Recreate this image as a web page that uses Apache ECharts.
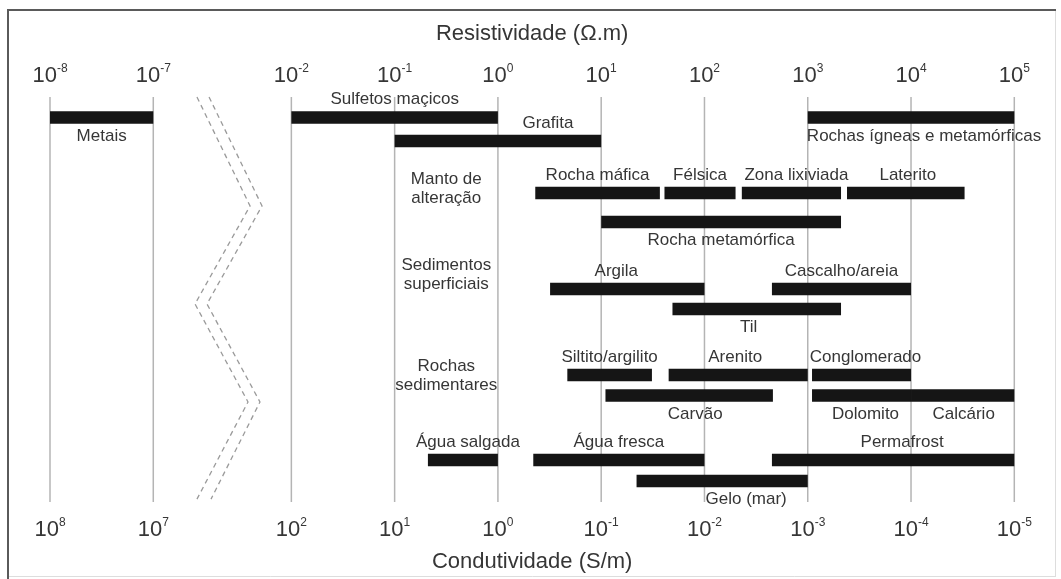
<!DOCTYPE html>
<html>
<head>
<meta charset="utf-8">
<script src="https://cdn.jsdelivr.net/npm/echarts@6/dist/echarts.min.js"></script>
<style>
  html, body { margin: 0; padding: 0; background: #fff; }
  #chart { width: 1061px; height: 579px; }
</style>
</head>
<body>
<div id="chart"></div>
<script>
// Resistivity ranges of earth materials (Ω·m)
const materials = ['Metais', 'Sulfetos maçicos', 'Rochas ígneas e metamórficas', 'Grafita',
  'Rocha máfica', 'Félsica', 'Zona lixiviada', 'Laterito', 'Rocha metamórfica',
  'Argila', 'Cascalho/areia', 'Til',
  'Siltito/argilito', 'Arenito', 'Conglomerado', 'Carvão', 'Dolomito', 'Calcário',
  'Água salgada', 'Água fresca', 'Permafrost', 'Gelo (mar)'];
const rhoMin = [1e-8, 1e-2, 1e3, 1e-1,
  2.3, 41, 230, 2400, 10,
  3.2, 450, 49,
  4.7, 45, 1100, 11, 1100, 1e4,
  0.21, 2.2, 450, 22];
const rhoMax = [1e-7, 1, 1e5, 10,
  37, 200, 2100, 33000, 2100,
  100, 1e4, 2100,
  31, 1000, 1e4, 460, 1e4, 1e5,
  1, 100, 1e5, 1000];
// row each material sits on
const materialRow = [0, 0, 0, 1, 2, 2, 2, 2, 3, 4, 4, 5, 6, 6, 6, 7, 7, 7, 8, 8, 8, 9];

// group headings, placed mid-decade between 10^-1 and 10^0
const groupNames = ['Manto de\nalteração', 'Sedimentos\nsuperficiais', 'Rochas\nsedimentares'];

// decade exponents shown on the resistivity scale (broken between -7 and -2)
const decades = [-8, -7, -2, -1, 0, 1, 2, 3, 4, 5];

// ---- layout (vertical rows in axis units 0..100, label placement) ----
const rowY = [5.06, 10.86, 23.7, 30.86, 47.4, 52.35, 68.64, 73.7, 89.6, 94.8];
const groupY = [22.6, 43.8, 68.8];
const labelSide = ['b', 'a', 'b', 'a', 'a', 'a', 'a', 'a', 'b', 'a', 'a', 'b',
  'a', 'a', 'a', 'b', 'b', 'b', 'a', 'a', 'a', 'b'];
const labelShift = [0, 0, 13, 50, 0, 0, 5, 2, 0, -11, 0, -8, 0, -3, 4, 6, 4, 1, 5, 0, 9, 24];

// broken log axis: decades -8..-7, a gap, then -2..5
const GAP = 1.337;
function toPos(lg) { return lg <= -7 ? lg + 8 : lg + 2 + 1 + GAP; }
const XMAX = toPos(5);
const tickPos = decades.map(toPos);
function expAt(v) {
  let best = 0;
  tickPos.forEach((p, i) => { if (Math.abs(p - v) < Math.abs(tickPos[best] - v)) best = i; });
  return decades[best];
}

const FONT = "'Liberation Sans', Arial, Helvetica, sans-serif";
const TXT = '#363636';

const barData = materials.map((n, i) => [
  toPos(Math.log10(rhoMin[i])), toPos(Math.log10(rhoMax[i])), rowY[materialRow[i]], i
]);
const groupData = groupNames.map((n, i) => [toPos(-0.5), groupY[i], i]);

const richTick = {
  b: { fontSize: 22, fontFamily: FONT, color: TXT, lineHeight: 26 },
  s: { fontSize: 12, fontFamily: FONT, color: TXT, lineHeight: 14, verticalAlign: 'top' }
};

function axis(pos, sign, name, nameGap, margin) {
  return {
    type: 'value', position: pos, min: 0, max: XMAX,
    axisLine: { show: false }, axisTick: { show: false }, splitLine: { show: false },
    axisLabel: {
      customValues: tickPos, showMinLabel: true, showMaxLabel: true, margin: margin,
      formatter: v => '{b|10}{s|' + (sign * expAt(v) === 0 ? '0' : String(sign * expAt(v))) + '}',
      rich: richTick
    },
    name: name, nameLocation: 'middle', nameGap: nameGap,
    nameTextStyle: { fontSize: 22, fontFamily: FONT, color: TXT }
  };
}

const chart = echarts.init(document.getElementById('chart'), null, { renderer: 'canvas' });
chart.setOption({
  backgroundColor: '#fff',
  animation: false,
  grid: { left: 50, right: 46.7, top: 97, bottom: 77 },
  xAxis: [
    axis('top', 1, 'Resistividade (Ω.m)', 52, 8),
    axis('bottom', -1, 'Condutividade (S/m)', 49, 15)
  ],
  yAxis: { type: 'value', min: 0, max: 100, inverse: true, show: false },
  graphic: [
    { type: 'line', shape: { x1: 8, y1: 10, x2: 1056, y2: 10 }, style: { stroke: '#5a5a5a', lineWidth: 2 } },
    { type: 'line', shape: { x1: 8, y1: 9, x2: 8, y2: 579 }, style: { stroke: '#5a5a5a', lineWidth: 2 } },
    { type: 'line', shape: { x1: 1055.5, y1: 11, x2: 1055.5, y2: 577 }, style: { stroke: '#dddddd', lineWidth: 1 } },
    { type: 'line', shape: { x1: 9, y1: 576.5, x2: 1056, y2: 576.5 }, style: { stroke: '#dddddd', lineWidth: 1 } }
  ],
  series: [
    {
      // decade grid lines
      type: 'custom', xAxisIndex: 0, silent: true, z: 1,
      data: tickPos.map(p => [p]),
      encode: { x: 0 },
      renderItem: (params, api) => {
        const a = api.coord([api.value(0), 0]);
        const b = api.coord([api.value(0), 100]);
        return { type: 'line', shape: { x1: a[0], y1: a[1], x2: b[0], y2: b[1] },
          style: { stroke: '#b4b4b4', lineWidth: 1.5 } };
      }
    },
    {
      // axis-break zigzag (double dashed line)
      type: 'custom', xAxisIndex: 0, silent: true, z: 1,
      data: [[1.5, 50]],
      encode: { x: 0, y: 1 },
      renderItem: (params, api) => {
        const lines = [
          [[1.423, 0], [1.937, 26.9], [1.404, 51.1], [1.917, 75.3], [1.423, 99.3]],
          [[1.540, 0], [2.053, 26.9], [1.520, 51.1], [2.033, 75.3], [1.559, 99.3]]
        ];
        return { type: 'group', children: lines.map(l => ({
          type: 'polyline', shape: { points: l.map(p => api.coord(p)) },
          style: { stroke: '#9a9a9a', lineWidth: 1.3, lineDash: [5, 4], fill: null }
        })) };
      }
    },
    {
      // material ranges
      type: 'custom', xAxisIndex: 0, z: 3,
      data: barData,
      encode: { x: [0, 1], y: 2 },
      renderItem: (params, api) => {
        const i = api.value(3);
        const p0 = api.coord([api.value(0), api.value(2)]);
        const p1 = api.coord([api.value(1), api.value(2)]);
        const h = 12.5;
        const ly = labelSide[i] === 'a' ? p0[1] - 18 : p0[1] + 18.5;
        return { type: 'group', children: [
          { type: 'rect', shape: { x: p0[0], y: p0[1] - h / 2, width: p1[0] - p0[0], height: h },
            style: { fill: '#151515' } },
          { type: 'text', z2: 5, style: { x: (p0[0] + p1[0]) / 2 + labelShift[i], y: ly,
            text: materials[i], align: 'center', verticalAlign: 'middle',
            fontSize: 17, fontFamily: FONT, fill: TXT } }
        ] };
      }
    },
    {
      // group headings
      type: 'custom', xAxisIndex: 0, z: 3,
      data: groupData,
      encode: { x: 0, y: 1 },
      renderItem: (params, api) => {
        const p = api.coord([api.value(0), api.value(1)]);
        return { type: 'text', style: { x: p[0], y: p[1], text: groupNames[api.value(2)],
          align: 'center', verticalAlign: 'middle', lineHeight: 19,
          fontSize: 17, fontFamily: FONT, fill: TXT } };
      }
    }
  ]
});
</script>
</body>
</html>
